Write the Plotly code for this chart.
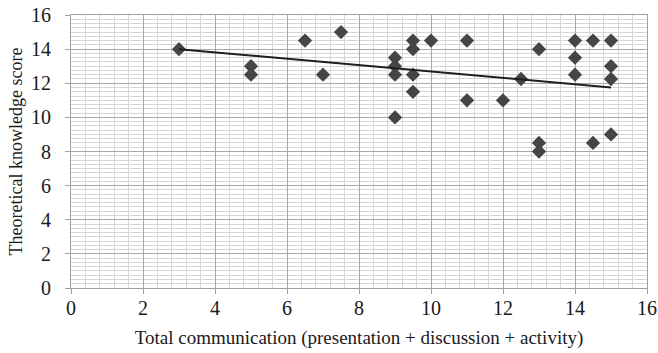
import plotly.graph_objects as go

# Scatter observations: communication total vs theoretical knowledge score
comm_total = [3, 5, 5, 6.5, 7, 7.5, 9, 9, 9, 9, 9.5, 9.5, 9.5, 9.5, 10, 11, 11, 12,
              12.5, 13, 13, 13, 14, 14, 14, 14.5, 14.5, 15, 15, 15, 15]
knowledge = [14, 13, 12.5, 14.5, 12.5, 15, 13.5, 13, 12.5, 10, 14.5, 14, 12.5, 11.5,
             14.5, 14.5, 11, 11, 12.25, 14, 8.5, 8, 14.5, 13.5, 12.5, 14.5, 8.5,
             14.5, 13, 12.25, 9]

# Linear trend line endpoints
trend_x = [3, 15]
trend_y = [14.0, 11.75]

x_ticks = [0, 2, 4, 6, 8, 10, 12, 14, 16]
y_ticks = [0, 2, 4, 6, 8, 10, 12, 14, 16]

font_family = "Liberation Serif"
text_color = "#1a1a1a"

fig = go.Figure()
fig.add_trace(go.Scatter(
    x=comm_total, y=knowledge, mode="markers",
    marker=dict(symbol="diamond", size=11, color="#454545"),
    showlegend=False, cliponaxis=False,
))
fig.add_trace(go.Scatter(
    x=trend_x, y=trend_y, mode="lines",
    line=dict(color="#1e1e1e", width=2),
    showlegend=False,
))

fig.update_layout(
    width=658, height=353,
    margin=dict(l=71, r=11, t=15, b=65),
    paper_bgcolor="white", plot_bgcolor="white",
    font=dict(family=font_family, color=text_color, size=20),
    xaxis=dict(
        range=[0, 16], tickmode="array", tickvals=x_ticks,
        ticktext=[str(v) for v in x_ticks],
        automargin=False,
        showline=True, linecolor="#a0a0a0", linewidth=1, mirror=True,
        gridcolor="#a8a8a8", gridwidth=1,
        ticks="outside", ticklen=5, tickcolor="#a0a0a0", zeroline=False,
        tickfont=dict(family=font_family, size=20, color=text_color),
        ticklabelstandoff=-3,
        minor=dict(dtick=0.4, tick0=0, showgrid=True, gridcolor="#d6d6d6"),
        title=dict(text="Total communication (presentation + discussion + activity)",
                   standoff=12,
                   font=dict(family=font_family, size=19, color=text_color)),
    ),
    yaxis=dict(
        range=[0, 16], tickmode="array", tickvals=y_ticks,
        ticktext=[str(v) for v in y_ticks],
        automargin=False,
        showline=True, linecolor="#a0a0a0", linewidth=1, mirror=True,
        gridcolor="#a8a8a8", gridwidth=1,
        ticks="outside", ticklen=5, tickcolor="#a0a0a0", zeroline=False,
        tickfont=dict(family=font_family, size=20, color=text_color),
        minor=dict(dtick=0.25, tick0=0, showgrid=True, gridcolor="#d6d6d6"),
        ticklabelstandoff=10,
        title=dict(text="Theoretical knowledge score", standoff=3,
                   font=dict(family=font_family, size=18, color=text_color)),
    ),
)

fig.write_html("out.html")
